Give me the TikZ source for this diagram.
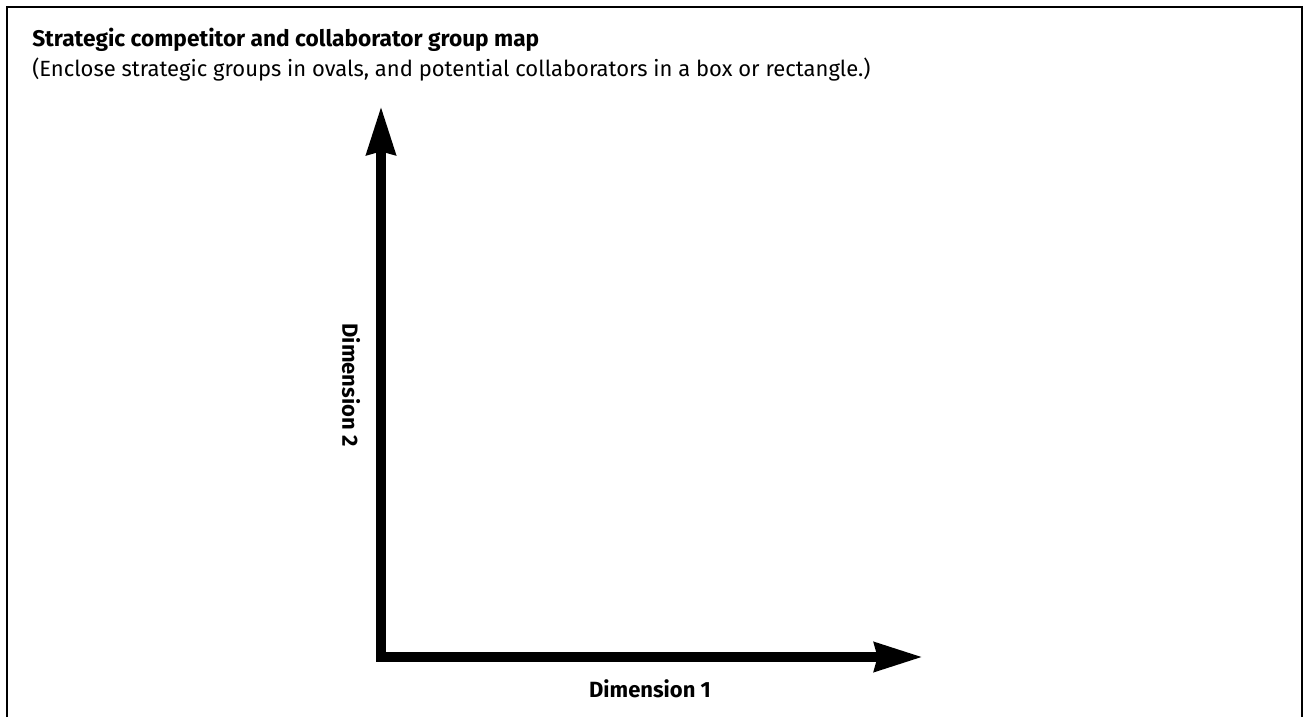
\documentclass[tikz,border=0pt]{standalone}
\usepackage{fontspec}
\setmainfont{Fira Sans}
\usetikzlibrary{arrows.meta}
\usetikzlibrary{positioning}

\tikzset{
  axis/.style={line width=7.5pt, line join=miter,
    {Stealth[length=36pt,width=21pt,inset=2pt]}-{Stealth[length=36pt,width=21pt,inset=2pt]}},
  axislabel/.style={inner sep=0.75pt, font=\fontsize{16.5}{19}\selectfont\bfseries},
}

\begin{document}
\begin{tikzpicture}[x=0.75pt,y=0.75pt,yscale=-1,xscale=1]
\useasboundingbox (0,0) rectangle (1305,717);
%Frame (open at the bottom)
\draw [line width=2pt, line join=miter] (7,717) -- (7,7) -- (1302,7) -- (1302,717) ;
% Text Node
\node (title) at (31,47) [anchor=base west][inner sep=0.75pt] [align=left] {\fontsize{17}{20}\selectfont\bfseries Strategic competitor and collaborator group map};
% Text Node
\node (subtitle) at (31,77) [anchor=base west][inner sep=0.75pt] [align=left] {\fontsize{16.5}{19}\selectfont (Enclose strategic groups in ovals, and potential collaborators in a box or rectangle.)};
%Axes
\coordinate (origin) at (381,657);
\coordinate (ytip) at (381,106);
\coordinate (xtip) at (923,657);
\draw [axis] (ytip) -- (origin) -- (xtip) ;
% Text Node
\node (dimone) at (650,689) [axislabel] {Dimension 1};
% Text Node
\node (dimtwo) at (351,385) [axislabel, rotate=-90] {Dimension 2};
\end{tikzpicture}
\end{document}
